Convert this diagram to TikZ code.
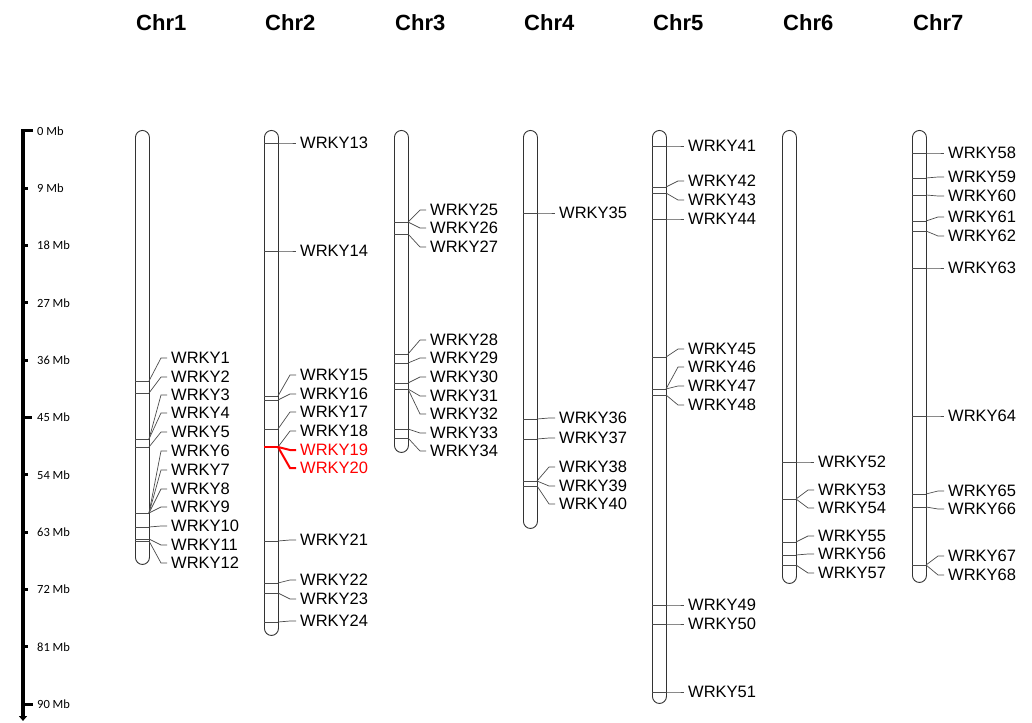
\documentclass[tikz,border=0pt]{standalone}
\usepackage{fontspec}
\setmainfont{Liberation Sans}
\newfontfamily\mbfont{Carlito}
\usetikzlibrary{arrows.meta}

\tikzset{
  chrom/.style={draw=black!80, line width=0.9pt, rounded corners=7pt,
    minimum width=14pt, inner sep=0pt, anchor=north west},
  band/.style={draw=black!70, line width=0.7pt},
  hot/.style={draw=red, line width=2pt},
  gene/.style={anchor=west, inner sep=0pt, font=\fontsize{16.5}{16.5}\selectfont},
  chrname/.style={anchor=west, inner sep=0pt, font=\fontsize{22}{22}\selectfont\bfseries},
  mbtick/.style={line width=3pt},
  mblabel/.style={anchor=west, inner sep=0pt, font=\mbfont\fontsize{12.5}{12.5}\selectfont},
}

% genes of one chromosome: #1 chromosome, #2 its left x, #3 list marker y/label y/number
\newcommand{\placegenes}[3]{%
  \foreach \ym/\yl/\g in {#3} {
    \coordinate (m\g) at (#2+14,\ym);
    \draw[band] (chr#1.west |- m\g) -- (m\g);
    \node[gene] (w\g) at (#2+36,\yl) {WRKY\g};
    \draw[band] (m\g) -- ([xshift=-10pt]w\g.west) -- ([xshift=-4pt]w\g.west);
  }}

\begin{document}
\begin{tikzpicture}[x=1pt,y=-1pt]
  \useasboundingbox (0,0) rectangle (1032,722);

  % scale bar
  \draw[line width=3.5pt, -{Triangle[width=8pt,length=5pt]}] (23,131) -- (23,721);
  \foreach \mb in {0,9,...,90} {
    \pgfmathsetmacro\yy{131+6.367*\mb}
    \draw[mbtick] (23,\yy) -- (28,\yy);
    \node[mblabel] (s\mb) at (37,\yy) {\mb~Mb};
  }
  \draw[mbtick] (21.25,131) -- (33,131);
  \draw[mbtick] (23,417.5) -- (32,417.5);
  \draw[mbtick] (23,704) -- (33,704);

  % chromosomes
  \foreach \n/\x/\b in {1/135/564, 2/264/635, 3/394/452, 4/523/528,
                        5/652/703, 6/782/583, 7/912/582} {
    \pgfmathsetmacro\h{\b-130}
    \node[chrom, minimum height=\h pt] (chr\n) at (\x,130) {};
    \node[chrname] (t\n) at (\x+1,23) {Chr\n};
  }

  \placegenes{1}{135}{381/358/1, 393/377/2, 439/395/3, 439/413/4, 447/432/5,
    513/451/6, 513/470/7, 513/489/8, 513/507/9, 527/526/10, 539/545/11, 541/563/12}
  \placegenes{2}{264}{143/143/13, 251/251/14, 396/375/15, 400/394/16, 429/412/17,
    447/431/18, 541/540/21, 583/580/22, 593/599/23, 622/621/24}
  \placegenes{3}{394}{222/210/25, 222/228/26, 234/247/27, 354/340/28, 363/358/29,
    383/377/30, 389/396/31, 389/414/32, 429/433/33, 438/451/34}
  \placegenes{4}{523}{213/213/35, 419/418/36, 439/438/37, 481/467/38, 481/486/39,
    486/504/40}
  \placegenes{5}{652}{146/146/41, 187/181/42, 193/200/43, 219/219/44, 357/349/45,
    389/367/46, 389/386/47, 395/405/48, 605/605/49, 624/624/50, 692/692/51}
  \placegenes{6}{782}{462/462/52, 499/490/53, 499/508/54, 542/536/55, 555/554/56,
    565/573/57}
  \placegenes{7}{912}{153/153/58, 178/177/59, 195/196/60, 221/217/61, 231/236/62,
    268/268/63, 416/416/64, 494/491/65, 507/509/66, 565/556/67, 565/575/68}

  % highlighted pair
  \foreach \yl/\g in {450/19, 468/20} {
    \coordinate (m\g) at (278,447);
    \draw[hot] (chr2.west |- m\g) -- (m\g);
    \node[gene, text=red] (w\g) at (300,\yl) {WRKY\g};
    \draw[hot] (m\g) -- ([xshift=-10pt]w\g.west) -- ([xshift=-4pt]w\g.west);
  }
\end{tikzpicture}
\end{document}
